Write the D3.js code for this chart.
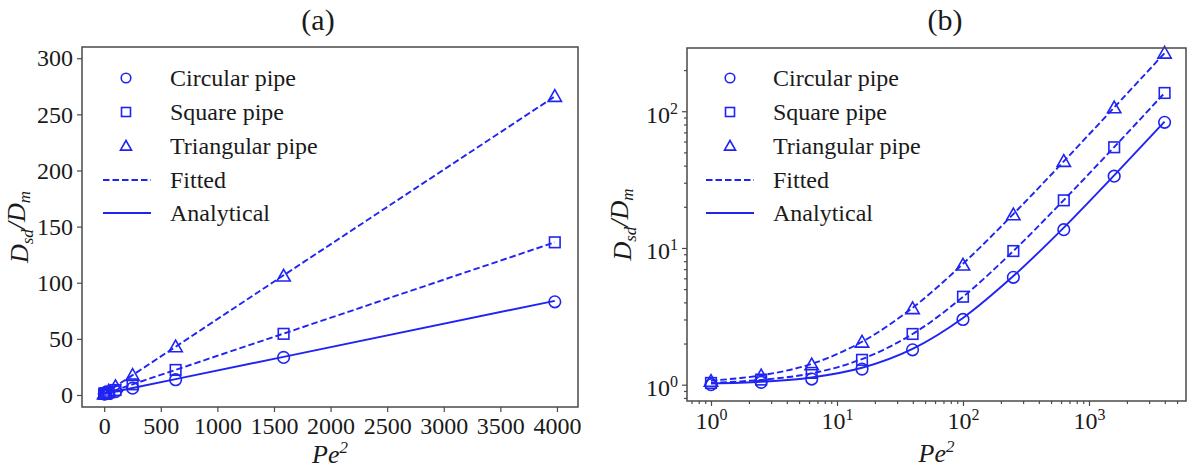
<!DOCTYPE html>
<html>
<head>
<meta charset="utf-8">
<script src="https://cdn.jsdelivr.net/npm/d3@7"></script>
<style>
  html, body { margin: 0; padding: 0; background: #fff; }
  svg { display: block; }
  text { font-family: "Liberation Serif", "Times New Roman", serif; fill: #1a1a1a; }
</style>
</head>
<body>
<svg id="chart" width="1195" height="473"></svg>
<script>
// ---- data ----
const pe2 = [1, 2.5, 6.3, 15.8, 39.8, 100, 251, 631, 1585, 3981];
const circularPts   = [1.0, 1.04, 1.1, 1.3, 1.8, 3.0, 6.1, 13.6, 33.5, 83];
const squarePts     = [1.03, 1.09, 1.22, 1.52, 2.35, 4.4, 9.5, 22.3, 54.5, 136];
const triangularPts = [1.06, 1.16, 1.4, 2.05, 3.6, 7.5, 17.5, 43, 106, 266];
const analyticalCircular = [1.02, 1.05, 1.13, 1.33, 1.83, 3.08, 6.23, 14.1, 34.0, 83.9];
const fittedSquare       = [1.03, 1.085, 1.21, 1.54, 2.35, 4.39, 9.5, 22.4, 54.7, 136];
const fittedTriangular   = [1.07, 1.17, 1.42, 2.06, 3.65, 7.66, 17.7, 43.0, 106.6, 266];
const linearXTicks = [0, 500, 1000, 1500, 2000, 2500, 3000, 3500, 4000];
const linearYTicks = [0, 50, 100, 150, 200, 250, 300];
const logMajorTicks = [1, 10, 100, 1000];
const legendLabels = ["Circular pipe", "Square pipe", "Triangular pipe", "Fitted", "Analytical"];
const panelTitles = ["(a)", "(b)"];

const BLUE = "#1f24f2";
const FRAME = "#4a4a4a";
const FS = "24px";
const svg = d3.select("#chart");

const markerSeries = [
  { vals: circularPts, shape: "circle" },
  { vals: squarePts, shape: "square" },
  { vals: triangularPts, shape: "triangle" }
];
const lineSeries = [
  { vals: analyticalCircular, dashed: false },
  { vals: fittedSquare, dashed: true },
  { vals: fittedTriangular, dashed: true }
];

function drawMarker(g, shape, x, y, s) {
  if (shape === "circle") {
    g.append("circle").attr("cx", x).attr("cy", y).attr("r", s)
      .attr("fill", "none").attr("stroke", BLUE).attr("stroke-width", 1.6);
  } else if (shape === "square") {
    g.append("rect").attr("x", x - s).attr("y", y - s).attr("width", 2 * s).attr("height", 2 * s)
      .attr("fill", "none").attr("stroke", BLUE).attr("stroke-width", 1.6);
  } else {
    const h = s * 1.15;
    g.append("path")
      .attr("d", `M${x},${y - h}L${x + h},${y + h * 0.75}L${x - h},${y + h * 0.75}Z`)
      .attr("fill", "none").attr("stroke", BLUE).attr("stroke-width", 1.6);
  }
}

function styleAxis(g) {
  g.select(".domain").remove();
  g.selectAll(".tick line").attr("stroke", FRAME).attr("stroke-width", 1.2);
  g.selectAll(".tick text").attr("font-family", "Liberation Serif").attr("fill", "#1a1a1a");
}

function supLabel(sel) {
  sel.each(function (d) {
    const t = d3.select(this);
    const e = Math.round(Math.log10(d));
    t.text("10");
    t.append("tspan").attr("dy", "-0.55em").attr("font-size", "16px").text(e);
  });
}

function drawPanel(opts) {
  const { x, y, left, right, top, bottom, log, legendX, titleX, yLabelX } = opts;
  const g = svg.append("g");

  // lines
  lineSeries.forEach(s => {
    const line = d3.line()
      .x((d, i) => x(pe2[i])).y(d => y(d))
      .curve(log ? d3.curveCatmullRom.alpha(0.5) : d3.curveLinear);
    g.append("path").datum(s.vals).attr("d", line)
      .attr("fill", "none").attr("stroke", BLUE).attr("stroke-width", 1.9)
      .attr("stroke-dasharray", s.dashed ? "6.5,3" : null);
  });
  // markers
  markerSeries.forEach(s => {
    s.vals.forEach((v, i) => drawMarker(g, s.shape, x(pe2[i]), y(v), s.shape === "square" ? 5.3 : 5.8));
  });

  // frame
  g.append("rect").attr("x", left).attr("y", top).attr("width", right - left).attr("height", bottom - top)
    .attr("fill", "none").attr("stroke", FRAME).attr("stroke-width", 1.5);

  // axes
  if (!log) {
    const ax = g.append("g").attr("transform", `translate(0,${bottom})`)
      .call(d3.axisBottom(x).tickValues(linearXTicks).tickSize(5).tickPadding(5).tickFormat(d3.format("d")));
    styleAxis(ax); ax.selectAll(".tick text").attr("font-size", FS);
    const ay = g.append("g").attr("transform", `translate(${left},0)`)
      .call(d3.axisLeft(y).tickValues(linearYTicks).tickSize(5).tickPadding(4).tickFormat(d3.format("d")));
    styleAxis(ay); ay.selectAll(".tick text").attr("font-size", FS);
  } else {
    const xd = x.domain(), yd = y.domain();
    const minorsFor = (lo, hi) => {
      const out = [];
      for (let e = -1; e <= 4; e++) for (let m = 2; m <= 9; m++) {
        const v = m * Math.pow(10, e);
        if (v > lo && v < hi) out.push(v);
      }
      return out;
    };
    const axm = g.append("g").attr("transform", `translate(0,${bottom})`)
      .call(d3.axisBottom(x).tickValues(minorsFor(xd[0], xd[1])).tickSize(3).tickFormat(""));
    styleAxis(axm);
    const aym = g.append("g").attr("transform", `translate(${left},0)`)
      .call(d3.axisLeft(y).tickValues(minorsFor(yd[0], yd[1])).tickSize(3).tickFormat(""));
    styleAxis(aym);
    const ax = g.append("g").attr("transform", `translate(0,${bottom})`)
      .call(d3.axisBottom(x).tickValues(logMajorTicks).tickSize(5).tickPadding(6));
    styleAxis(ax); ax.selectAll(".tick text").attr("font-size", FS).call(supLabel);
    const ay = g.append("g").attr("transform", `translate(${left},0)`)
      .call(d3.axisLeft(y).tickValues(logMajorTicks.filter(v => v <= yd[1])).tickSize(5).tickPadding(4));
    styleAxis(ay); ay.selectAll(".tick text").attr("font-size", FS).attr("dy", "0.45em").call(supLabel);
  }

  // title
  g.append("text").attr("x", titleX).attr("y", 30).attr("text-anchor", "middle")
    .attr("font-size", "30px").text(opts.title);

  // x label Pe^2
  const xl = g.append("text").attr("x", (left + right) / 2).attr("y", opts.xLabelY)
    .attr("text-anchor", "middle").attr("font-size", "26px").attr("font-style", "italic");
  xl.append("tspan").text("Pe");
  xl.append("tspan").attr("dy", "-0.6em").attr("font-size", "17px").text("2");

  // y label D_sd/D_m
  const cy = (top + bottom) / 2;
  const yl = g.append("text").attr("transform", `translate(${yLabelX},${cy}) rotate(-90)`)
    .attr("text-anchor", "middle").attr("font-size", "26px").attr("font-style", "italic");
  yl.append("tspan").text("D");
  yl.append("tspan").attr("dy", "0.3em").attr("font-size", "17px").text("sd");
  yl.append("tspan").attr("dy", "-0.3em").text("/D");
  yl.append("tspan").attr("dy", "0.3em").attr("font-size", "17px").text("m");

  // legend
  const rows = [78, 112, 146, 180, 213];
  const lx = legendX;
  const lg = g.append("g");
  ["circle", "square", "triangle"].forEach((sh, i) => drawMarker(lg, sh, lx.marker, rows[i], sh === "square" ? 4.5 : 4.8));
  lg.append("line").attr("x1", lx.lineStart).attr("x2", lx.lineEnd).attr("y1", rows[3]).attr("y2", rows[3])
    .attr("stroke", BLUE).attr("stroke-width", 1.9).attr("stroke-dasharray", "6.5,3");
  lg.append("line").attr("x1", lx.lineStart).attr("x2", lx.lineEnd).attr("y1", rows[4]).attr("y2", rows[4])
    .attr("stroke", BLUE).attr("stroke-width", 1.9);
  legendLabels.forEach((t, i) => {
    lg.append("text").attr("x", lx.text).attr("y", rows[i]).attr("dy", "0.35em")
      .attr("font-size", FS).text(t);
  });
}

// Panel (a): linear
{
  const left = 82, right = 578, top = 47, bottom = 407;
  const x = d3.scaleLinear().domain([-196, 4186]).range([left, right]);
  const y = d3.scaleLinear().domain([-10.7, 310]).range([bottom, top]);
  drawPanel({ x, y, left, right, top, bottom, log: false, title: panelTitles[0], titleX: 318,
    xLabelY: 463, yLabelX: 28,
    legendX: { marker: 126, lineStart: 103, lineEnd: 151, text: 170 } });
}
// Panel (b): log-log
{
  const left = 687, right = 1186, top = 48, bottom = 401;
  const x = d3.scaleLog().domain([0.645, 5888]).range([left, right]);
  const y = d3.scaleLog().domain([0.76, 290]).range([bottom, top]);
  drawPanel({ x, y, left, right, top, bottom, log: true, title: panelTitles[1], titleX: 945,
    xLabelY: 462, yLabelX: 631,
    legendX: { marker: 730, lineStart: 706, lineEnd: 754, text: 773 } });
}
</script>
</body>
</html>
